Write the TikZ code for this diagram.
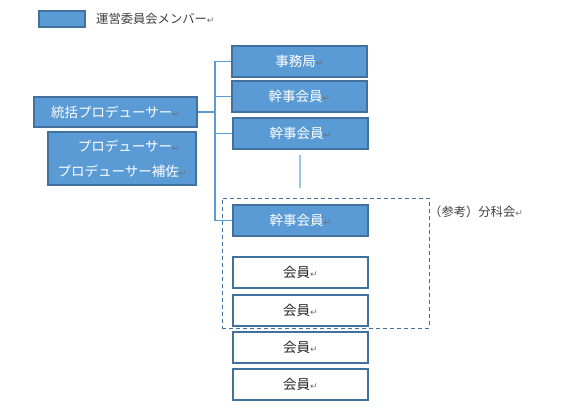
\documentclass[tikz,border=0pt]{standalone}
\usepackage{fontspec}
\setmainfont{Noto Sans CJK JP}
\newfontfamily\dvfont{DejaVu Sans}
\definecolor{boxfill}{HTML}{5B9BD5}
\definecolor{boxline}{HTML}{41719C}
\definecolor{connline}{HTML}{5B9BD5}
\definecolor{lightline}{HTML}{9DC3E6}
\definecolor{retgray}{HTML}{707070}
\newcommand{\retmark}{{\dvfont\fontsize{9bp}{10bp}\selectfont\color{retgray}↵}}
\begin{document}
\begin{tikzpicture}[x=1bp,y=-1bp,
  bluebox/.style={draw=boxline, line width=1.2bp, fill=boxfill, text=white, inner sep=0pt,
    font=\fontsize{13.5bp}{25bp}\selectfont, align=center},
  whitebox/.style={draw=boxline, line width=1.2bp, fill=white, text=black!85, inner sep=0pt,
    font=\fontsize{13.5bp}{15bp}\selectfont, minimum width=135bp, minimum height=31bp},
  stdbox/.style={bluebox, minimum width=135bp, minimum height=31bp},
  conn/.style={draw=connline, line width=1.3bp},
  plain/.style={inner sep=0pt, text=black!75, font=\fontsize{12.3bp}{14bp}\selectfont, anchor=west}]
\useasboundingbox (0,0) rectangle (570,411);
\fill[white] (0,0) rectangle (570,411);
% legend
\node[bluebox, minimum width=46bp, minimum height=16bp] (legend) at (62,19) {};
\node[plain] (legendtext) at (96,19) {運営委員会メンバー\retmark};
% left
\node[bluebox, minimum width=163bp, minimum height=30bp] (tougatsu) at (115.5,112) {統括プロデューサー\retmark};
\node[bluebox, minimum width=148bp, minimum height=53bp] (producer) at (122,158.5)
  {\hspace*{1em}プロデューサー\retmark\\ プロデューサー補佐\retmark};
% right column
\node[stdbox] (jimu) at (299.5,61.5) {事務局\retmark};
\node[stdbox] (kanjiA) at (299.5,96.5) {幹事会員\retmark};
\node[stdbox] (kanjiB) at (300.5,133.5) {幹事会員\retmark};
\node[stdbox] (kanjiC) at (300.5,220.5) {幹事会員\retmark};
\node[whitebox] (kaiinA) at (300.5,272.5) {会員\retmark};
\node[whitebox] (kaiinB) at (300.5,310.5) {会員\retmark};
\node[whitebox] (kaiinC) at (300.5,347.5) {会員\retmark};
\node[whitebox] (kaiinD) at (300.5,384.5) {会員\retmark};
% dashed group
\node[draw=boxline, dashed, dash pattern=on 4bp off 3bp, line width=1bp, inner sep=0pt,
  minimum width=207bp, minimum height=130bp] (bunka) at (325.5,263) {};
\node[plain] (bunkatext) at (429,212) {（参考）分科会\retmark};
% light vertical line
\coordinate (lightTop) at (300,155);
\coordinate (lightBot) at (300,188);
\draw[lightline, line width=1.2bp] (lightTop) -- (lightBot);
% connectors
\coordinate (trunk) at (215,0);
\draw[conn] (tougatsu.east) -- (tougatsu.east -| trunk);
\draw[conn] (jimu.west) -- (jimu.west -| trunk) -- (kanjiC.west -| trunk) -- (kanjiC.west);
\draw[conn] (kanjiA.west) -- (kanjiA.west -| trunk);
\draw[conn] (kanjiB.west) -- (kanjiB.west -| trunk);
\end{tikzpicture}
\end{document}
